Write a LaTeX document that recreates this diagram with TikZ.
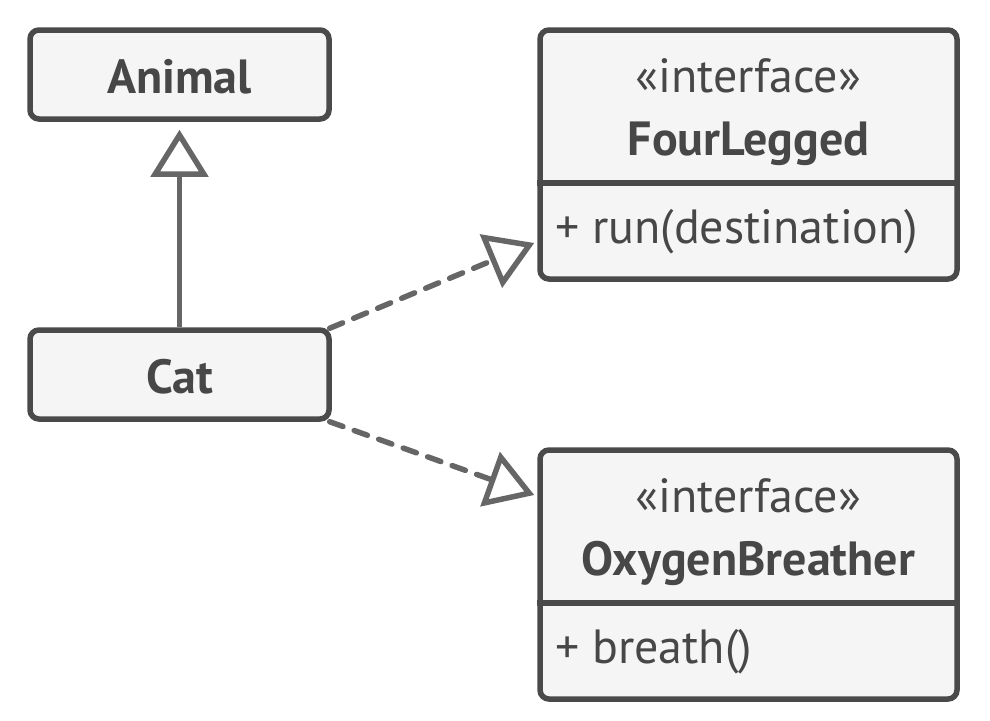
\documentclass[tikz,border=0pt]{standalone}
\usepackage{fontspec}
\setmainfont{PT Sans}
\usetikzlibrary{arrows.meta,calc}
\definecolor{bord}{HTML}{4A4A4A}
\definecolor{arr}{HTML}{666666}
\definecolor{fillc}{HTML}{F5F5F5}
\definecolor{txt}{HTML}{474747}
\begin{document}
\begin{tikzpicture}[x=1pt,y=-1pt,
  box/.style={draw=bord, fill=fillc, line width=5.5pt, rounded corners=9pt, inner sep=0pt},
  lbl/.style={text=txt, inner sep=0pt, font=\fontsize{48}{58}\selectfont},
  bl/.style={lbl, font=\fontsize{48}{58}\selectfont\bfseries},
  conn/.style={draw=arr, line width=5.5pt, line join=miter,
    -{Triangle[open, length=47pt, width=57pt]}},
  dsh/.style={conn, line cap=round, dash pattern=on 14pt off 12pt}]
\useasboundingbox (0,0) rectangle (990,720);
% Animal
\node[box, minimum width=299pt, minimum height=89pt] (animal) at (179.5,74.5) {};
\node[bl, anchor=base] (animalt) at (179.5,93) {Animal};
% Cat
\node[box, minimum width=299pt, minimum height=89pt] (cat) at (179.5,374.5) {};
\node[bl, anchor=base] (catt) at (179.5,393) {Cat};
% FourLegged
\node[box, minimum width=417pt, minimum height=249pt] (fl) at (748.5,154.5) {};
\draw[draw=bord, line width=5.5pt] (fl.west |- 0,183) coordinate (fldl) -- (fl.east |- 0,183) coordinate (fldr);
\node[lbl, anchor=base] (flst) at (748.5,92) {«interface»};
\node[bl, anchor=base] (fln) at (748.5,155) {FourLegged};
\node[lbl, anchor=base west] (flm) at (555,243) {+ run(destination)};
% OxygenBreather
\node[box, minimum width=417pt, minimum height=249pt] (ob) at (748.5,574.5) {};
\draw[draw=bord, line width=5.5pt] (ob.west |- 0,603) coordinate (obdl) -- (ob.east |- 0,603) coordinate (obdr);
\node[lbl, anchor=base] (obst) at (748.5,512) {«interface»};
\node[bl, anchor=base] (obn) at (748.5,575) {OxygenBreather};
\node[lbl, anchor=base west] (obm) at (555,663) {+ breath()};
% connectors
\coordinate (atip) at ($(animal.south)+(0,8)$);
\draw[conn] (cat.north) -- (atip);
\coordinate (fltip) at ($(fl.west |- 0,243)+(-3,0)$);
\coordinate (obtip) at ($(ob.west |- 0,495)+(-3,0)$);
\draw[dsh] ($(cat.north east)+(-2,1)$) -- (fltip);
\draw[dsh] ($(cat.south east)+(-2,0)$) -- (obtip);
\end{tikzpicture}
\end{document}
